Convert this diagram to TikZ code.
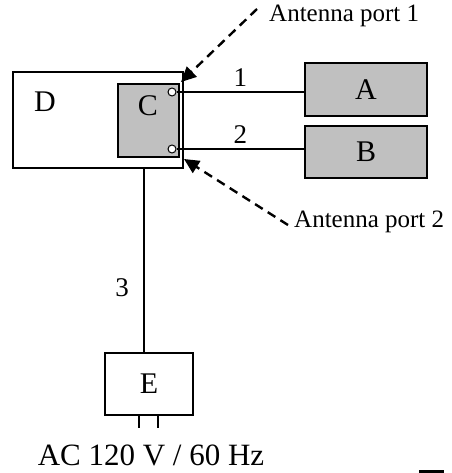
\documentclass[tikz,border=0pt]{standalone}
\usepackage{fontspec}
\setmainfont{Liberation Serif}
\usepackage{tikz}
\usetikzlibrary{arrows.meta, positioning, calc}
\definecolor{boxgray}{RGB}{192, 192, 192}

\begin{document}
\begin{tikzpicture}[
    x=1pt, y=-1pt,
    >={Triangle[length=15pt, width=14pt]},
    unitbox/.style={draw, line width=1.8pt, inner sep=0pt},
    port/.style={circle, draw, fill=white, line width=1pt, minimum size=8pt, inner sep=0pt},
    wire/.style={line width=1.3pt},
    pointer/.style={->, line width=2.4pt, dash pattern=on 9pt off 6pt}
  ]

  \useasboundingbox (0,0) rectangle (451,473);

  % Units
  \node[unitbox, minimum width=170pt, minimum height=96pt] (d) at (98,120) {};
  \node[font=\fontsize{30}{32}\selectfont] (dlabel) at (45,102) {D};
  \node[unitbox, fill=boxgray, line width=1.3pt, minimum width=61pt, minimum height=73pt] (c) at (148.5,120.5) {};
  \node[font=\fontsize{30}{32}\selectfont] (clabel) at (148,106) {C};
  \node[unitbox, fill=boxgray, minimum width=122pt, minimum height=53pt, font=\fontsize{30}{32}\selectfont] (a) at (366,89.5) {A};
  \node[unitbox, fill=boxgray, minimum width=122pt, minimum height=52pt, font=\fontsize{30}{32}\selectfont] (b) at (366,152) {B};
  \node[unitbox, minimum width=88pt, minimum height=62pt, font=\fontsize{30}{32}\selectfont] (e) at (149,384) {E};

  % Antenna ports
  \node[port] (p1) at (172,92) {};
  \node[port] (p2) at (172,149) {};

  % Cables
  \draw[wire] (p1.east) -- (p1.east -| a.west) node[midway, above=2pt, font=\fontsize{27}{29}\selectfont] (n1) {1};
  \draw[wire] (p2.east) -- (p2.east -| b.west) node[midway, above=2pt, font=\fontsize{27}{29}\selectfont] (n2) {2};
  \draw[wire] ([xshift=-5pt]e.north) -- ([xshift=-5pt]e.north |- d.south);
  \node[font=\fontsize{27}{29}\selectfont] (n3) at (122,288) {3};

  % Mains plug
  \draw[wire] ([xshift=-10pt]e.south) -- ++(0,12);
  \draw[wire] ([xshift=9pt]e.south) -- ++(0,12);
  \node[font=\fontsize{31}{33}\selectfont] (mains) at (151,455) {AC 120 V / 60 Hz};

  % Antenna port labels
  \node[anchor=west, inner sep=0pt, font=\fontsize{25}{27}\selectfont] (ap1) at (269,16) {Antenna port 1};
  \node[anchor=west, inner sep=0pt, font=\fontsize{25}{27}\selectfont] (ap2) at (294,222) {Antenna port 2};
  \coordinate (t1) at (181,82);
  \coordinate (t2) at (184,159);
  \draw[pointer] ([xshift=-12pt, yshift=7pt]ap1.west) -- (t1);
  \draw[pointer] ([xshift=-6pt, yshift=-3pt]ap2.west) -- (t2);

  \fill (419,470) rectangle (444,473);

\end{tikzpicture}
\end{document}
